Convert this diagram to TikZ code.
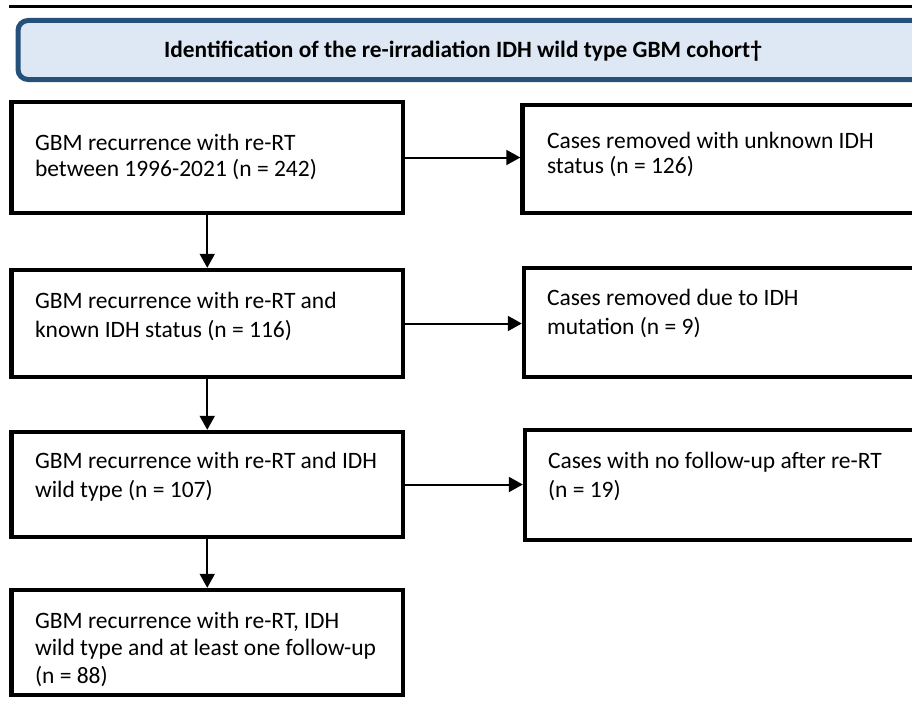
\documentclass[tikz,border=0pt]{standalone}
\usepackage{fontspec}
\setmainfont{Carlito}
\usetikzlibrary{arrows.meta,calc}
\definecolor{hdrborder}{HTML}{24507A}
\definecolor{hdrfill}{HTML}{DEE8F4}
\tikzset{
  flowbox/.style={draw=black, line width=4.5pt, rectangle, inner sep=0pt, outer sep=0pt, anchor=north west},
  flowtext/.style={anchor=base west, inner sep=0pt, outer sep=0pt, align=left, font=\fontsize{23.5}{28.5}\selectfont},
  flowarrow/.style={line width=2pt, -{Triangle[length=14pt,width=15pt]}, shorten >=2.2pt},
}
\begin{document}
\begin{tikzpicture}[x=1pt,y=-1pt]
\useasboundingbox (0,0) rectangle (912,701);
% top rule
\coordinate (ruleL) at (9,6.8);
\coordinate (ruleR) at (920,6.8);
\draw[line width=2.6pt] (ruleL) -- (ruleR);
% header
\node[draw=hdrborder, fill=hdrfill, line width=5pt, rounded corners=10pt, rectangle, inner sep=0pt, outer sep=0pt,
  minimum width=930pt, minimum height=59pt, anchor=north west] (hdr) at (18,20.5) {};
\node[anchor=base, inner sep=0pt, font=\bfseries\fontsize{23.4}{27}\selectfont] (hdrtext) at (463,58)
  {Identification of the re-irradiation IDH wild type GBM cohort\textdagger};
% left boxes
\node[flowbox, minimum width=391.5pt, minimum height=111pt] (b1) at (11.5,102) {};
\node[flowbox, minimum width=391.5pt, minimum height=107pt] (b2) at (11.5,270) {};
\node[flowbox, minimum width=391.5pt, minimum height=105pt] (b3) at (11.5,432) {};
\node[flowbox, minimum width=391.5pt, minimum height=105pt] (b4) at (11.5,590) {};
% right boxes
\node[flowbox, minimum width=420pt, minimum height=108pt] (r1) at (522.5,105) {};
\node[flowbox, minimum width=420pt, minimum height=109pt] (r2) at (524,268) {};
\node[flowbox, minimum width=420pt, minimum height=110pt] (r3) at (525,430) {};
% texts (anchored at the baseline of the last line)
\node[flowtext, font=\fontsize{23.5}{26}\selectfont] (t1) at (35,176) {GBM recurrence with re-RT\\between 1996-2021 (n = 242)};
\node[flowtext, font=\fontsize{23.5}{29}\selectfont] (t2) at (35,337) {GBM recurrence with re-RT and\\known IDH status (n = 116)};
\node[flowtext, font=\fontsize{23.5}{29}\selectfont] (t3) at (35,497) {GBM recurrence with re-RT and IDH\\wild type (n = 107)};
\node[flowtext, font=\fontsize{23.5}{27.5}\selectfont] (t4) at (35,683) {GBM recurrence with re-RT, IDH\\wild type and at least one follow-up\\(n = 88)};
\node[flowtext, font=\fontsize{23.5}{25.5}\selectfont] (s1) at (547,173.5) {Cases removed with unknown IDH\\status (n = 126)};
\node[flowtext, font=\fontsize{23.5}{29.5}\selectfont] (s2) at (547,334.5) {Cases removed due to IDH\\mutation (n = 9)};
\node[flowtext, font=\fontsize{23.5}{29}\selectfont] (s3) at (548,497) {Cases with no follow-up after re-RT\\(n = 19)};
% arrows
\draw[flowarrow] (b1.south) -- (b2.north);
\draw[flowarrow] (b2.south) -- (b3.north);
\draw[flowarrow] (b3.south) -- (b4.north);
\draw[flowarrow] (b1.east) -- (b1.east -| r1.west);
\draw[flowarrow] (b2.east) -- (b2.east -| r2.west);
\draw[flowarrow] (b3.east) -- (b3.east -| r3.west);
\end{tikzpicture}
\end{document}
